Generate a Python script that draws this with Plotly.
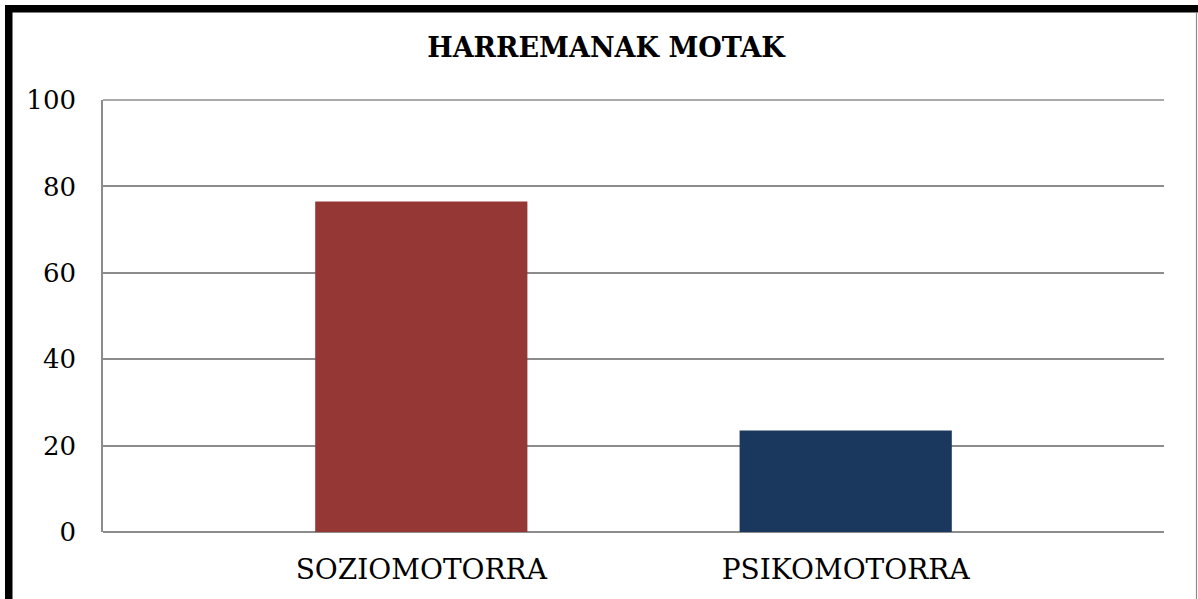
import plotly.graph_objects as go

categories = ["SOZIOMOTORRA", "PSIKOMOTORRA"]
values = [76.5, 23.5]
bar_colors = ["#953735", "#1a385e"]
y_ticks = [0, 20, 40, 60, 80, 100]
title_text = "HARREMANAK MOTAK"

W, H = 1198, 599
L, R, T, B = 103, 34, 100, 67
pw, ph = W - L - R, H - T - B
grid_color = "#8c8c8c"

def px_x(x):
    return (x - L) / pw

def px_y(y):
    return 1 - (y - T) / ph

fig = go.Figure(
    go.Bar(
        x=categories,
        y=values,
        marker=dict(color=bar_colors, line=dict(width=0)),
        width=0.5,
    )
)

font_family = "DejaVu Serif"

fig.update_layout(
    width=W,
    height=H,
    margin=dict(l=L, r=R, t=T, b=B),
    paper_bgcolor="white",
    plot_bgcolor="white",
    showlegend=False,
    title=dict(
        text="<b>" + title_text + "</b>",
        x=606 / W,
        xanchor="center",
        y=1 - 48 / H,
        yanchor="middle",
        xref="container",
        yref="container",
        font=dict(family=font_family, size=27, color="black"),
    ),
    xaxis=dict(
        range=[-0.75, 1.75],
        showgrid=False,
        showline=False,
        zeroline=False,
        ticks="",
        tickfont=dict(family=font_family, size=28, color="black"),
        ticklabelstandoff=18,
    ),
    yaxis=dict(
        range=[min(y_ticks), max(y_ticks)],
        tickvals=y_ticks,
        showgrid=True,
        gridcolor=grid_color,
        gridwidth=1.6,
        showline=True,
        linecolor=grid_color,
        linewidth=1.6,
        zeroline=True,
        zerolinecolor=grid_color,
        zerolinewidth=1.6,
        ticks="",
        tickfont=dict(family=font_family, size=26, color="black"),
        ticklabelstandoff=20,
    ),
    shapes=[
        dict(
            type="line", xref="paper", yref="paper",
            x0=0, x1=1, y0=1, y1=1,
            line=dict(color=grid_color, width=1.6), layer="below",
        ),
        dict(
            type="line", xref="paper", yref="paper",
            x0=px_x(8.75), x1=px_x(W + 20), y0=px_y(8.8), y1=px_y(8.8),
            line=dict(color="black", width=7.5), layer="above",
        ),
        dict(
            type="line", xref="paper", yref="paper",
            x0=px_x(8.75), x1=px_x(8.75), y0=px_y(5), y1=px_y(H + 20),
            line=dict(color="black", width=7.5), layer="above",
        ),
        dict(
            type="line", xref="paper", yref="paper",
            x0=px_x(1196.5), x1=px_x(1196.5), y0=px_y(12), y1=px_y(H + 20),
            line=dict(color=grid_color, width=1.2), layer="above",
        ),
    ],
)

fig.write_html(
    "out.html",
    config={"displayModeBar": False},
    post_script="document.body.style.margin='0px';",
)
